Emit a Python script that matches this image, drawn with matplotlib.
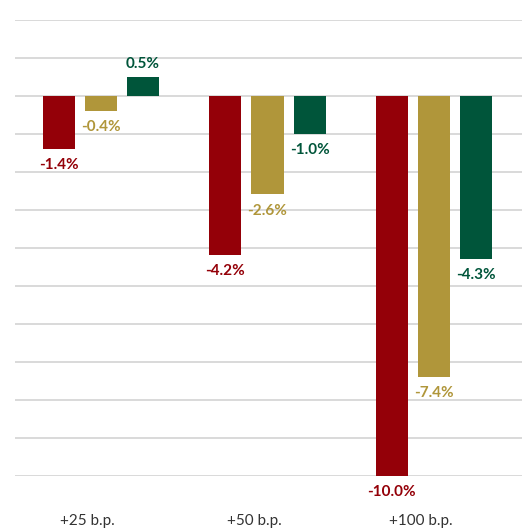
import matplotlib
matplotlib.use("Agg")
import matplotlib.pyplot as plt
import numpy as np

categories = ["+25 b.p.", "+50 b.p.", "+100 b.p."]
series_a = [-1.4, -4.2, -10.0]
series_b = [-0.4, -2.6, -7.4]
series_c = [0.5, -1.0, -4.3]
colors = ["#940008", "#b0963a", "#00553a"]

plt.rcParams['font.family'] = ['Lato', 'DejaVu Sans']

fig = plt.figure(figsize=(5.22, 5.31), dpi=100)
ax = fig.add_axes([15/522, 1 - 476/531, 1 - 15/522, (476 - 19.5)/531])

x = np.arange(len(categories))
offsets = [-0.253, 0.0, 0.253]
width = 0.193
for vals, off, col in zip([series_a, series_b, series_c], offsets, colors):
    ax.bar(x + off, vals, width=width, color=col, zorder=3)
    for xi, v in zip(x + off, vals):
        if v >= 0:
            ax.annotate(f"{v:.1f}%", (xi, v), xytext=(0, 4), textcoords="offset points",
                        ha="center", va="bottom", color=col, fontsize=11, fontweight="bold")
        else:
            ax.annotate(f"{v:.1f}%", (xi, v), xytext=(0, -6.5), textcoords="offset points",
                        ha="center", va="top", color=col, fontsize=11, fontweight="bold",
                        annotation_clip=False)

ax.set_ylim(-10, 2)
ax.set_xlim((15 - 101) / 166.5, (522 - 101) / 166.5)
ax.set_yticks(np.arange(-10, 3, 1))
ax.yaxis.grid(True, color="#d3d3d3", linewidth=1.2, zorder=0)
ax.set_yticklabels([])
ax.tick_params(axis="y", length=0)
ax.set_xticks(x - 0.08)
ax.set_xticklabels(categories, fontsize=11, color="#333333")
ax.tick_params(axis="x", length=0, pad=27)
for s in ax.spines.values():
    s.set_visible(False)

fig.savefig("out.png", dpi=100)
